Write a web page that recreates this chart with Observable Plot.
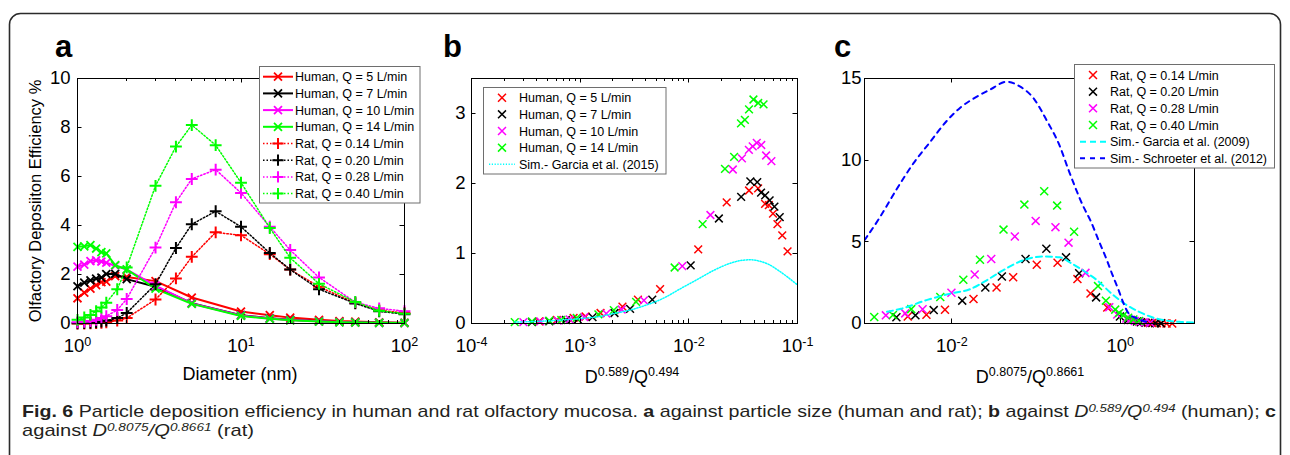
<!DOCTYPE html>
<html><head><meta charset="utf-8">
<script src="https://cdn.jsdelivr.net/npm/d3@7"></script>
<script src="https://cdn.jsdelivr.net/npm/@observablehq/plot@0.6"></script>
<style>
html,body{margin:0;padding:0;background:#fff;}
#root{position:relative;width:1290px;height:455px;overflow:hidden;font-family:"Liberation Sans",Arial,sans-serif;}
#root > svg{position:absolute;top:0;}
</style></head><body><div id="root"></div>
<script>
// ---------------- data ----------------
const humanLabels = ["Human, Q = 5 L/min", "Human, Q = 7 L/min", "Human, Q = 10 L/min", "Human, Q = 14 L/min"];
const ratLabels = ["Rat, Q = 0.14 L/min", "Rat, Q = 0.20 L/min", "Rat, Q = 0.28 L/min", "Rat, Q = 0.40 L/min"];
const simBLabel = "Sim.- Garcia et al. (2015)";
const simCLabels = ["Sim.- Garcia et al. (2009)", "Sim.- Schroeter et al. (2012)"];

// panel a: diameter (nm) vs efficiency (%)
const humanDiam = [1, 1.1, 1.2, 1.3, 1.4, 1.5, 1.7, 2, 3, 5, 10, 15, 20, 30, 40, 50, 70, 100];
const human5  = [1.03, 1.26, 1.42, 1.57, 1.69, 1.71, 1.93, 1.9, 1.73, 1.06, 0.49, 0.34, 0.24, 0.15, 0.1, 0.08, 0.05, 0.03];
const human7  = [1.52, 1.67, 1.76, 1.83, 1.87, 2.02, 2.03, 1.81, 1.5, 0.83, 0.34, 0.21, 0.15, 0.09, 0.06, 0.05, 0.03, 0.02];
const human10 = [2.32, 2.4, 2.55, 2.58, 2.53, 2.48, 2.36, 2.2, 1.55, 0.82, 0.33, 0.2, 0.14, 0.09, 0.06, 0.04, 0.03, 0.02];
const human14 = [3.13, 3.15, 3.2, 3.06, 2.91, 2.86, 2.38, 2.21, 1.42, 0.8, 0.31, 0.19, 0.13, 0.08, 0.05, 0.04, 0.03, 0.02];

const ratDiam = [1, 1.1, 1.2, 1.3, 1.4, 1.5, 1.75, 2, 3, 4, 5, 7, 10, 15, 20, 30, 50, 70, 100];
const rat014 = [0.0, 0.0, 0.01, 0.02, 0.03, 0.05, 0.12, 0.22, 0.98, 1.84, 2.72, 3.72, 3.6, 2.83, 2.2, 1.5, 0.84, 0.54, 0.43];
const rat020 = [0.01, 0.02, 0.03, 0.05, 0.08, 0.12, 0.22, 0.43, 1.6, 3.08, 4.05, 4.58, 3.95, 2.88, 2.2, 1.4, 0.82, 0.5, 0.38];
const rat028 = [0.05, 0.07, 0.1, 0.15, 0.22, 0.3, 0.55, 1.0, 3.1, 4.95, 5.9, 6.28, 5.33, 3.95, 3.0, 1.88, 0.87, 0.62, 0.5];
const rat040 = [0.15, 0.25, 0.35, 0.5, 0.65, 0.85, 1.4, 2.29, 5.62, 7.22, 8.1, 7.28, 5.75, 3.9, 2.68, 1.62, 0.88, 0.52, 0.4];

// panel b: D^0.589/Q^0.494 for the human points (same order as humanDiam)
const bX5  = [0.081, 0.0724, 0.0654, 0.0595, 0.0545, 0.0503, 0.0434, 0.0358, 0.0223, 0.0122, 0.00544, 0.0034, 0.00245, 0.00154, 0.00112, 0.00087, 0.00061, 0.00042];
const bX7  = [0.0686, 0.0613, 0.0554, 0.0504, 0.0462, 0.0426, 0.0368, 0.0303, 0.0189, 0.0104, 0.00461, 0.00288, 0.00207, 0.0013, 0.00095, 0.00074, 0.00052, 0.00036];
const bX10 = [0.0575, 0.0514, 0.0464, 0.0422, 0.0387, 0.0357, 0.0308, 0.0254, 0.0158, 0.0087, 0.00386, 0.00241, 0.00174, 0.00109, 0.0008, 0.00062, 0.00043, 0.0003];
const bX14 = [0.0487, 0.0435, 0.0393, 0.0358, 0.0328, 0.0302, 0.0261, 0.0215, 0.0134, 0.0074, 0.00327, 0.00204, 0.00147, 0.00093, 0.00067, 0.00052, 0.00036, 0.00025];
const simBX = [0.00025, 0.0004, 0.0007, 0.001, 0.0015, 0.002, 0.003, 0.004, 0.006, 0.008, 0.012, 0.017, 0.024, 0.03, 0.037, 0.045, 0.055, 0.065, 0.08, 0.1];
const simBY = [0.02, 0.03, 0.05, 0.07, 0.1, 0.14, 0.2, 0.26, 0.37, 0.48, 0.63, 0.76, 0.86, 0.9, 0.91, 0.89, 0.84, 0.77, 0.67, 0.55];

// panel c: D^0.8075/Q^0.8661 for the rat points (same order as ratDiam)
const cX014 = [4.13, 3.54, 3.08, 2.71, 2.4, 2.15, 1.68, 1.35, 0.70, 0.443, 0.31, 0.18, 0.102, 0.0535, 0.034, 0.0181, 0.0083, 0.005, 0.003];
const cX020 = [3.03, 2.6, 2.26, 1.99, 1.76, 1.58, 1.23, 0.99, 0.516, 0.325, 0.227, 0.1325, 0.075, 0.0393, 0.025, 0.0133, 0.0061, 0.0037, 0.0022];
const cX028 = [2.27, 1.94, 1.69, 1.49, 1.32, 1.18, 0.92, 0.74, 0.386, 0.243, 0.17, 0.099, 0.056, 0.0294, 0.0187, 0.0099, 0.0045, 0.0028, 0.00165];
const cX040 = [1.66, 1.43, 1.24, 1.09, 0.97, 0.87, 0.675, 0.544, 0.283, 0.178, 0.125, 0.0727, 0.0411, 0.0216, 0.0137, 0.0073, 0.0033, 0.002, 0.0012];
const garciaX = [0.0017, 0.0025, 0.005, 0.01, 0.0165, 0.025, 0.041, 0.071, 0.12, 0.19, 0.26, 0.4, 0.53, 0.8, 1.2, 1.7, 2.3, 3.3, 5, 7.6];
const garciaY = [0.72, 0.9, 1.43, 1.85, 2.1, 2.6, 3.27, 3.88, 4.1, 4.05, 3.7, 3.1, 2.65, 1.8, 1.12, 0.7, 0.41, 0.2, 0.1, 0.06];
const schroeterX = [0.00092, 0.0014, 0.0022, 0.0035, 0.0055, 0.0087, 0.0125, 0.0185, 0.028, 0.045, 0.065, 0.093, 0.135, 0.19, 0.243, 0.366, 0.44, 0.552, 0.693, 0.796, 0.955, 1.096, 1.26, 1.58, 2.27];
const schroeterY = [5.1, 6.5, 8.2, 9.8, 11.1, 12.4, 13.2, 13.8, 14.3, 14.8, 14.5, 13.8, 12.4, 10.9, 9.4, 7.14, 6.33, 5.1, 3.88, 3.06, 2.04, 1.22, 0.61, 0.31, 0.04];

// tick values
const aXTicks = [1, 10, 100], aYTicks = [0, 2, 4, 6, 8, 10];
const bXTicks = [1e-4, 1e-3, 1e-2, 1e-1], bYTicks = [0, 1, 2, 3];
const cXTicks = [1e-2, 1], cYTicks = [0, 5, 10, 15];

// ---------------- styles ----------------
const colors = ["#ff0000", "#000000", "#ff00ff", "#00ff00"];
const FONT = '"Liberation Sans", Arial, Helvetica, sans-serif';
const rows = (xs, ys) => xs.map((x, i) => ({x, y: ys[i]}));
const humanY = [human5, human7, human10, human14];
const ratY = [rat014, rat020, rat028, rat040];
const bXs = [bX5, bX7, bX10, bX14];
const cXs = [cX014, cX020, cX028, cX040];

const plotStyle = {fontFamily: FONT, fontSize: "18.5px", background: "transparent", overflow: "visible", color: "#000"};
const expFmt = d => "10^" + Math.round(Math.log10(d));
const DOT = "1.5,2";

function axes(xt, yt, ypad) {
  return [
    Plot.frame({stroke: "#000", strokeWidth: 1}),
    Plot.axisX({ticks: xt, tickFormat: expFmt, tickSize: 0, tickPadding: 15, label: null}),
    Plot.axisY({ticks: yt, tickFormat: d => String(d), tickSize: 0, tickPadding: ypad, label: null})
  ];
}

function finish(svg, left, xMinor, xMajor, yMajor) {
  svg.style.left = left + "px";
  const X = svg.scale("x"), Y = svg.scale("y");
  const [x0, x1] = X.range, [y0, y1] = Y.range; // y0 bottom, y1 top
  const g = d3.select(svg).append("g").attr("stroke", "#000").attr("stroke-width", 1);
  const L = 4.5, Lm = 3;
  const vx = (v, len) => {
    const px = Math.round(X.apply(v)) + 0.5;
    g.append("line").attr("x1", px).attr("x2", px).attr("y1", y0).attr("y2", y0 - len);
    g.append("line").attr("x1", px).attr("x2", px).attr("y1", y1).attr("y2", y1 + len);
  };
  xMajor.forEach(v => vx(v, L));
  xMinor.forEach(v => vx(v, Lm));
  yMajor.forEach(v => {
    const py = Math.round(Y.apply(v)) + 0.5;
    g.append("line").attr("x1", x0).attr("x2", x0 + L).attr("y1", py).attr("y2", py);
    g.append("line").attr("x1", x1).attr("x2", x1 - L).attr("y1", py).attr("y2", py);
  });
  d3.select(svg).selectAll('g[aria-label="x-axis tick label"] text').each(function () {
    const [b, e] = this.textContent.split("^");
    const s = d3.select(this); s.text(null);
    s.append("tspan").text(b);
    s.append("tspan").attr("dy", "-0.45em").attr("font-size", "0.68em").text(e);
  });
  document.getElementById("root").appendChild(svg);
}

function minorLog(lo, hi) {
  const out = [];
  for (let e = lo; e < hi; e++) for (let m = 2; m <= 9; m++) out.push(m * Math.pow(10, e));
  return out;
}

// ---------------- panel a ----------------
const marksA = [];
humanY.forEach((ys, k) => {
  const d = rows(humanDiam, ys);
  marksA.push(Plot.line(d, {x: "x", y: "y", stroke: colors[k], strokeWidth: 2}));
  marksA.push(Plot.dot(d, {x: "x", y: "y", symbol: "times", r: 3.7, stroke: colors[k], strokeWidth: 1.8}));
});
ratY.forEach((ys, k) => {
  const d = rows(ratDiam, ys);
  marksA.push(Plot.line(d, {x: "x", y: "y", stroke: colors[k], strokeWidth: 1.5, strokeDasharray: DOT}));
  marksA.push(Plot.dot(d, {x: "x", y: "y", symbol: "plus", r: 3.9, stroke: colors[k], strokeWidth: 2}));
});
marksA.push(...axes(aXTicks, aYTicks, 7));
const pa = Plot.plot({
  width: 430, height: 400, marginLeft: 77, marginRight: 26, marginTop: 78, marginBottom: 77,
  x: {type: "log", domain: [1, 100]}, y: {domain: [0, 10]},
  style: plotStyle, marks: marksA
});
finish(pa, 0, minorLog(0, 2), aXTicks, aYTicks);

// ---------------- panel b ----------------
const marksB = [];
humanY.forEach((ys, k) => {
  marksB.push(Plot.dot(rows(bXs[k], ys), {x: "x", y: "y", symbol: "times", r: 3.6, stroke: colors[k], strokeWidth: 1.5}));
});
marksB.push(Plot.line(rows(simBX, simBY), {x: "x", y: "y", stroke: "#00ffff", strokeWidth: 1.5, strokeDasharray: "1.2,1.6", curve: "monotone-x"}));
marksB.push(...axes(bXTicks, bYTicks, 6));
const pb = Plot.plot({
  width: 400, height: 400, marginLeft: 41, marginRight: 33, marginTop: 78, marginBottom: 77,
  x: {type: "log", domain: [1e-4, 1e-1]}, y: {domain: [0, 3.5]},
  style: plotStyle, marks: marksB
});
finish(pb, 430, minorLog(-4, -1), bXTicks, bYTicks);

// ---------------- panel c ----------------
const marksC = [];
ratY.forEach((ys, k) => {
  marksC.push(Plot.dot(rows(cXs[k], ys), {x: "x", y: "y", symbol: "times", r: 3.7, stroke: colors[k], strokeWidth: 1.5}));
});
marksC.push(Plot.line(rows(garciaX, garciaY), {x: "x", y: "y", stroke: "#00ffff", strokeWidth: 2, strokeDasharray: "6,4", curve: "monotone-x", clip: true}));
marksC.push(Plot.line(rows(schroeterX, schroeterY), {x: "x", y: "y", stroke: "#0000ff", strokeWidth: 2, strokeDasharray: "5,5", curve: "monotone-x", clip: true}));
marksC.push(...axes(cXTicks, cYTicks, 3));
const pc = Plot.plot({
  width: 460, height: 400, marginLeft: 34, marginRight: 96, marginTop: 78, marginBottom: 77,
  x: {type: "log", domain: [0.00092, 7.6]}, y: {domain: [0, 15]},
  style: plotStyle, marks: marksC
});
finish(pc, 830, [], cXTicks, cYTicks);

// ---------------- overlay: frame, letters, labels, legends, caption ----------------
const ov = d3.create("svg").attr("width", 1290).attr("height", 455)
  .style("position", "absolute").style("left", "0px").style("top", "0px")
  .style("font-family", FONT);
ov.append("rect").attr("x", 9.5).attr("y", 13.5).attr("width", 1271).attr("height", 480).attr("rx", 11)
  .attr("fill", "none").attr("stroke", "#2b2b2b").attr("stroke-width", 1.6);

[["a", 55], ["b", 443], ["c", 834]].forEach(([t, x]) =>
  ov.append("text").attr("x", x).attr("y", 57).attr("font-size", 31).attr("font-weight", "bold").attr("fill", "#000").text(t));

ov.append("text").attr("transform", "translate(41,201) rotate(-90)").attr("text-anchor", "middle")
  .attr("font-size", 16.5).text("Olfactory Deposiiton Efficiency %");
ov.append("text").attr("x", 240).attr("y", 380).attr("text-anchor", "middle").attr("font-size", 18).text("Diameter (nm)");

function powLabel(cx, parts) {
  const t = ov.append("text").attr("x", cx).attr("y", 383).attr("text-anchor", "middle").attr("font-size", 18);
  parts.forEach(([s, sup]) => {
    t.append("tspan").attr("dy", sup ? -7 : 7).attr("font-size", sup ? 12.5 : 18).text(s);
  });
  t.select("tspan").attr("dy", 0);
}
powLabel(632, [["D", 0], ["0.589", 1], ["/Q", 0], ["0.494", 1]]);
powLabel(1030, [["D", 0], ["0.8075", 1], ["/Q", 0], ["0.8661", 1]]);

function legend(box, rowY0, rowH, sx0, sx1, mx, tx, items) {
  ov.append("rect").attr("x", box[0]).attr("y", box[1]).attr("width", box[2]).attr("height", box[3])
    .attr("fill", "#fff").attr("stroke", "#6e6e6e").attr("stroke-width", 1);
  items.forEach((it, i) => {
    const y = rowY0 + i * rowH;
    if (it.line) ov.append("line").attr("x1", sx0).attr("x2", sx1).attr("y1", y).attr("y2", y)
      .attr("stroke", it.color).attr("stroke-width", it.lw || 2).attr("stroke-dasharray", it.dash || null);
    if (it.marker) {
      const sym = it.marker === "plus" ? d3.symbolPlus : d3.symbolTimes;
      ov.append("path").attr("d", d3.symbol(sym, it.size || 43)()).attr("transform", `translate(${mx},${y})`)
        .attr("fill", "none").attr("stroke", it.color).attr("stroke-width", it.mw || 1.6);
    }
    ov.append("text").attr("x", tx).attr("y", y + 4.5).attr("font-size", 12.5).attr("fill", "#000").text(it.label);
  });
}
legend([259.5, 66.5, 160.5, 136.5], 76.7, 16.7, 263, 293, 278, 295, [
  ...humanLabels.map((l, k) => ({label: l, color: colors[k], line: true, lw: 2, marker: "times", mw: 1.8})),
  ...ratLabels.map((l, k) => ({label: l, color: colors[k], line: true, lw: 1.5, dash: DOT, marker: "plus", mw: 2}))
]);
legend([483.5, 87.5, 182.5, 86.5], 97.7, 16.65, 489, 515, 502, 519, [
  ...humanLabels.map((l, k) => ({label: l, color: colors[k], marker: "times", mw: 1.5})),
  {label: simBLabel, color: "#00ffff", line: true, lw: 1.5, dash: "1.2,1.6"}
]);
legend([1074.5, 64.5, 200, 103.5], 75, 16.67, 1080, 1107, 1093, 1110, [
  ...ratLabels.map((l, k) => ({label: l, color: colors[k], marker: "times", mw: 1.5})),
  {label: simCLabels[0], color: "#00ffff", line: true, lw: 2, dash: "6,4"},
  {label: simCLabels[1], color: "#0000ff", line: true, lw: 2, dash: "5,5"}
]);

function capLine(y, len, parts) {
  const t = ov.append("text").attr("x", 22).attr("y", y).attr("textLength", len).attr("lengthAdjust", "spacingAndGlyphs")
    .attr("font-size", 17).attr("fill", "#231f20")
    .style("font-family", '"Liberation Sans Narrow", "Liberation Sans", Arial, sans-serif');
  let raised = false;
  parts.forEach(p => {
    const sp = t.append("tspan").text(p.t);
    if (p.b) sp.attr("font-weight", "bold");
    if (p.i) sp.attr("font-style", "italic");
    if (p.sup) { sp.attr("font-size", 11.5).attr("dy", raised ? 0 : -5.5); raised = true; }
    else if (raised) { sp.attr("dy", 5.5); raised = false; }
  });
}
capLine(417, 1254, [
  {t: "Fig. 6", b: 1}, {t: " Particle deposition efficiency in human and rat olfactory mucosa. "},
  {t: "a", b: 1}, {t: " against particle size (human and rat); "}, {t: "b", b: 1}, {t: " against "},
  {t: "D", i: 1}, {t: "0.589", i: 1, sup: 1}, {t: "/", i: 1}, {t: "Q", i: 1}, {t: "0.494", i: 1, sup: 1},
  {t: " (human); "}, {t: "c", b: 1}
]);
capLine(436, 232, [
  {t: "against "}, {t: "D", i: 1}, {t: "0.8075", i: 1, sup: 1}, {t: "/", i: 1}, {t: "Q", i: 1},
  {t: "0.8661", i: 1, sup: 1}, {t: " (rat)"}
]);

document.getElementById("root").appendChild(ov.node());
</script>
</body></html>
